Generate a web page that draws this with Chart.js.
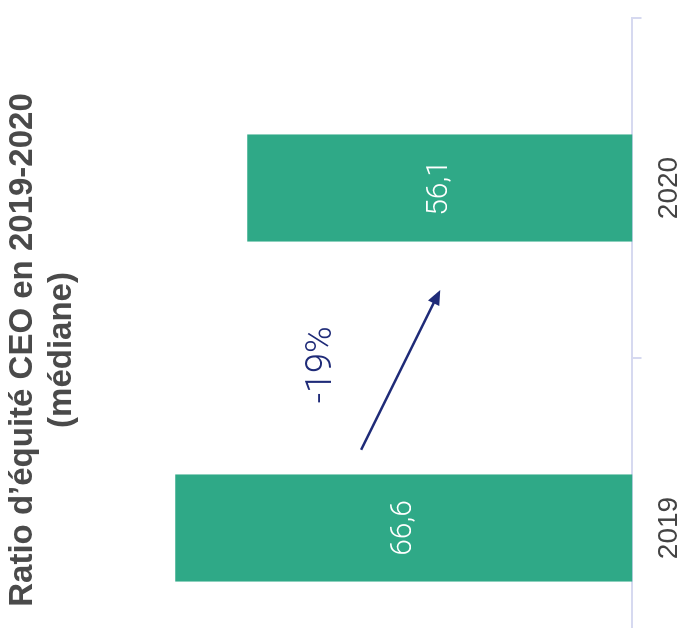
<!DOCTYPE html>
<html lang="fr">

<head>
    <meta charset="UTF-8">
    <meta name="viewport" content="width=device-width, initial-scale=1.0">
    <style>
        html,
        body {
            margin: 0;
            padding: 0;
            overflow: hidden;
            background-color: #ffffff;
        }

        /* the chart is drawn upright, then turned a quarter to the left */
        .turned {
            position: absolute;
            left: 0;
            top: 0;
            width: 708px;
            height: 683px;
            transform-origin: 0 0;
            transform: translate(0px, 708px) rotate(-90deg);
        }
    </style>
    <title>Ratio d’équité CEO</title>
</head>

<body>
    <div class="turned">
        <canvas id="myChart"></canvas>
    </div>
    <script src="https://cdn.jsdelivr.net/npm/chart.js"></script>

    <script>
        const years = ['2019', '2020'];
        const ratios = [66.6, 56.1];
        const titleLines = ['Ratio d’équité CEO en 2019-2020', '(médiane)'];
        const changeLabel = '-19%';
        // arrow and its label, in chart values (category index, ratio)
        const arrowFrom = { x: 0.23, y: 39.5 };
        const arrowTo = { x: 0.70, y: 28 };
        const changeAt = { x: 0.48, y: 45.2 };

        const green = '#2fa987';
        const navy = '#1f2b78';
        const axisColor = '#d6d9f0';

        const overlay = {
            id: 'overlay',
            afterLayout(chart) {
                // title sits a little off the middle in the original
                const t = chart.titleBlock;
                if (t) {
                    t.left += 8;
                    t.right += 8;
                }
            },
            afterDatasetsDraw(chart) {
                const { ctx, scales: { x, y } } = chart;
                const meta = chart.getDatasetMeta(0);
                ctx.save();

                // values inside the bars
                ctx.fillStyle = '#ffffff';
                ctx.font = '300 30px Roboto, "Liberation Sans", sans-serif';
                ctx.textAlign = 'center';
                ctx.textBaseline = 'middle';
                meta.data.forEach((bar, i) => {
                    const txt = ratios[i].toFixed(1).replace('.', ',');
                    ctx.fillText(txt, bar.x, (bar.y + bar.base) / 2);
                });

                // arrow
                const x1 = x.getPixelForValue(arrowFrom.x);
                const y1 = y.getPixelForValue(arrowFrom.y);
                const x2 = x.getPixelForValue(arrowTo.x);
                const y2 = y.getPixelForValue(arrowTo.y);
                const ang = Math.atan2(y2 - y1, x2 - x1);
                const head = 16;
                ctx.strokeStyle = navy;
                ctx.fillStyle = navy;
                ctx.lineWidth = 2.5;
                ctx.beginPath();
                ctx.moveTo(x1, y1);
                ctx.lineTo(x2 - Math.cos(ang) * head * 0.7, y2 - Math.sin(ang) * head * 0.7);
                ctx.stroke();
                ctx.beginPath();
                ctx.moveTo(x2, y2);
                ctx.lineTo(x2 - head * Math.cos(ang - 0.4), y2 - head * Math.sin(ang - 0.4));
                ctx.lineTo(x2 - head * Math.cos(ang + 0.4), y2 - head * Math.sin(ang + 0.4));
                ctx.closePath();
                ctx.fill();

                ctx.font = '300 36px Roboto, "Liberation Sans", sans-serif';
                ctx.fillText(changeLabel, x.getPixelForValue(changeAt.x), y.getPixelForValue(changeAt.y));
                ctx.restore();
            }
        };

        const ctx = document.getElementById('myChart');

        new Chart(ctx, {
            type: 'bar',
            data: {
                labels: years,
                datasets: [
                    {
                        data: ratios,
                        backgroundColor: green,
                        barPercentage: 0.315,
                        categoryPercentage: 1
                    }
                ]
            },
            options: {
                responsive: true,
                maintainAspectRatio: false,
                animation: false,
                layout: {
                    padding: { left: 10, right: 18, top: 0, bottom: -14 }
                },
                plugins: {
                    legend: { display: false },
                    tooltip: { enabled: false },
                    title: {
                        display: true,
                        text: titleLines,
                        color: '#4a4a4a',
                        font: {
                            family: '"Liberation Sans", Arial, sans-serif',
                            size: 33,
                            weight: 'bold',
                            lineHeight: 1.17
                        },
                        padding: { top: 4, bottom: 2 }
                    }
                },
                scales: {
                    x: {
                        grid: {
                            drawOnChartArea: false,
                            tickLength: 9,
                            color: axisColor,
                            lineWidth: 2
                        },
                        border: {
                            color: axisColor,
                            width: 2
                        },
                        ticks: {
                            color: '#444444',
                            padding: 11,
                            font: {
                                family: '"Liberation Sans", Arial, sans-serif',
                                size: 28
                            }
                        }
                    },
                    y: {
                        display: false,
                        min: 0,
                        max: 80
                    }
                }
            },
            plugins: [overlay]
        });
    </script>

</body>

</html>
